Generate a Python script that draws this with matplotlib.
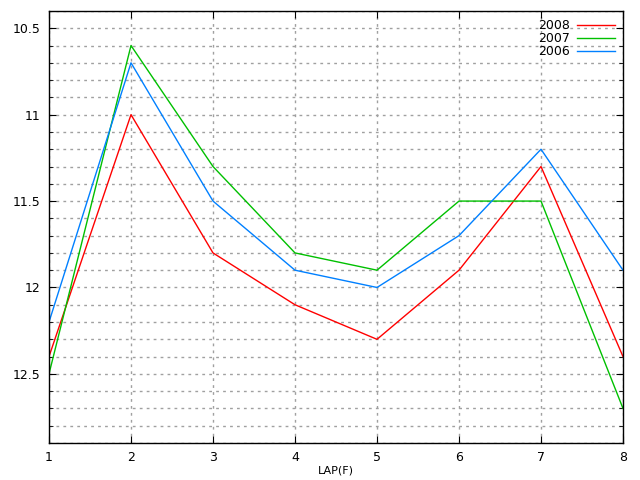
import matplotlib
matplotlib.use("Agg")
import matplotlib.pyplot as plt
from matplotlib.ticker import MultipleLocator, FixedLocator

laps = [1, 2, 3, 4, 5, 6, 7, 8]
s2008 = [12.4, 11.0, 11.8, 12.1, 12.3, 11.9, 11.3, 12.4]
s2007 = [12.5, 10.6, 11.3, 11.8, 11.9, 11.5, 11.5, 12.7]
s2006 = [12.2, 10.7, 11.5, 11.9, 12.0, 11.7, 11.2, 11.9]
yticks = [10.5, 11, 11.5, 12, 12.5]
ylabels = ["10.5", "11", "11.5", "12", "12.5"]

fig = plt.figure(figsize=(6.4, 4.8), dpi=100)
ax = fig.add_axes([49/640, 37/480, (623-49)/640, (443-11)/480])

ax.plot(laps, s2008, color="#ff0000", lw=1, label="2008")
ax.plot(laps, s2007, color="#00c000", lw=1, label="2007")
ax.plot(laps, s2006, color="#0080ff", lw=1, label="2006")

ax.set_xlim(1, 8)
ax.set_ylim(12.9, 10.4)
ax.xaxis.set_major_locator(FixedLocator(laps))
ax.set_xticklabels([str(l) for l in laps])
ax.yaxis.set_major_locator(FixedLocator(yticks))
ax.set_yticklabels(ylabels)
ax.yaxis.set_minor_locator(MultipleLocator(0.1))

ax.grid(True, which="both", axis="y", color="#a0a0a0", linestyle=(0, (2, 3)), lw=1)
ax.grid(True, which="major", axis="x", color="#a0a0a0", linestyle=(0, (2, 3)), lw=1)

ax.tick_params(which="major", direction="in", length=5, top=True, right=True, labelsize=9, pad=6)
ax.tick_params(which="minor", direction="in", length=3, top=True, right=True)
for sp in ax.spines.values():
    sp.set_linewidth(1)

ax.set_xlabel("LAP(F)", fontsize=8, labelpad=1)

leg = ax.legend(loc="upper right", frameon=False, markerfirst=False, fontsize=9,
                handlelength=3.0, borderaxespad=0.25, labelspacing=0.0, handletextpad=0.6)

fig.savefig("out.png", dpi=100)
